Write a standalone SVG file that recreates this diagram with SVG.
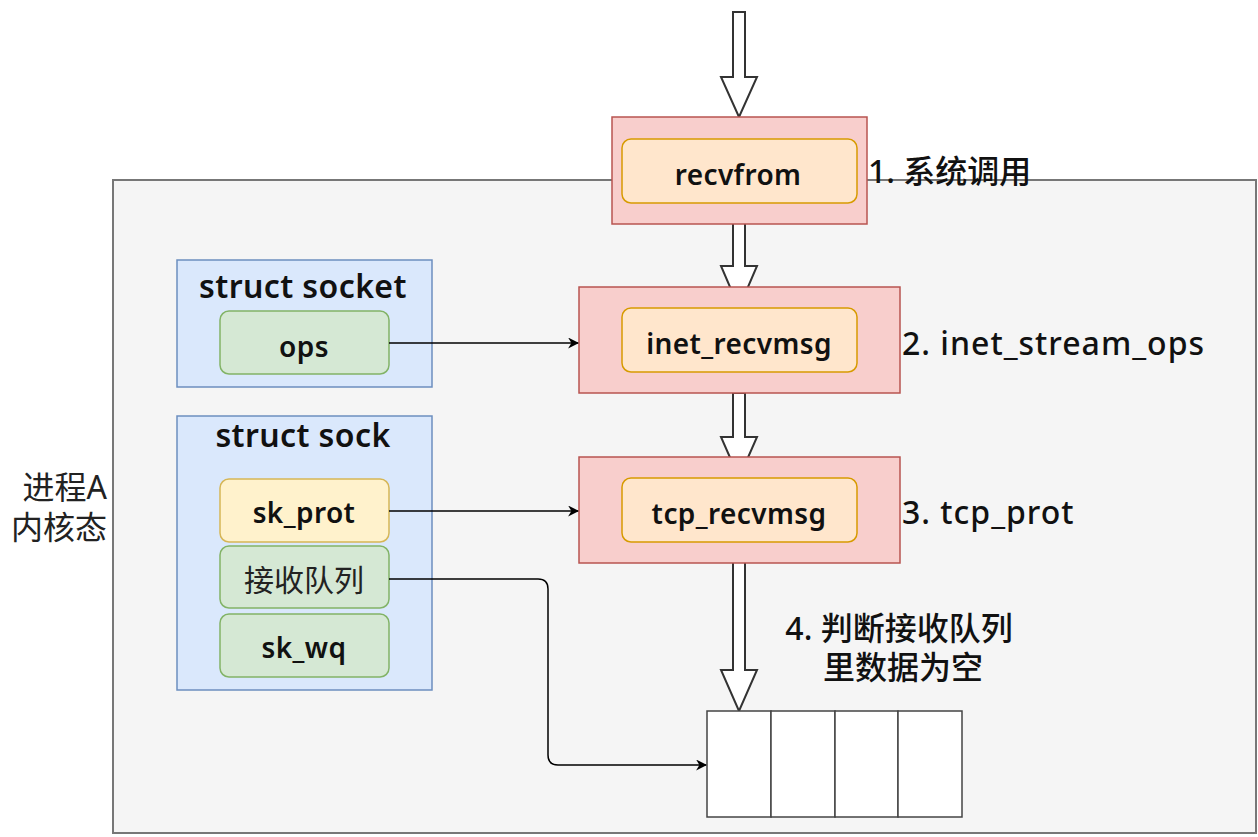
<svg xmlns="http://www.w3.org/2000/svg" width="1258" height="837" viewBox="0 0 1258 837">
  <defs>
    <marker id="arr" viewBox="0 0 10 10" refX="9" refY="5" markerWidth="11" markerHeight="11" markerUnits="userSpaceOnUse" orient="auto">
      <path d="M0,0 L10,5 L0,10 L3,5 Z" fill="#000"/>
    </marker>
    <style>
      .lbl { font-family: "Noto Sans", "Noto Sans CJK SC", sans-serif; font-size: 28px; font-weight: 600; fill: #111; letter-spacing: 0.4px; }
      .title { font-family: "Noto Sans", "Noto Sans CJK SC", sans-serif; font-size: 32px; font-weight: 600; fill: #111; letter-spacing: 0.4px; }
      .note { font-family: "Noto Sans", "Noto Sans CJK SC", sans-serif; font-size: 32px; font-weight: 500; fill: #111; }
      .wide { letter-spacing: 1px; }
      .cjk { font-family: "Noto Sans CJK SC", sans-serif; font-size: 30px; fill: #222; }
      .side { font-family: "Noto Sans", "Noto Sans CJK SC", sans-serif; font-size: 32px; fill: #222; }
      .call { fill: #f8cecc; stroke: #b85450; stroke-width: 1.5; }
      .fn { fill: #ffe6cc; stroke: #d79b00; stroke-width: 1.5; }
      .struct { fill: #dae8fc; stroke: #6c8ebf; stroke-width: 1.5; }
      .green { fill: #d5e8d4; stroke: #82b366; stroke-width: 1.5; }
      .yellow { fill: #fff2cc; stroke: #d6b656; stroke-width: 1.5; }
      .block { fill: #fff; stroke: #333; stroke-width: 2; stroke-linejoin: miter; }
      .link { fill: none; stroke: #000; stroke-width: 1.5; }
      .cell { fill: #fff; stroke: #444; stroke-width: 1.5; }
    </style>
  </defs>

  <rect width="1258" height="837" fill="#ffffff"/>

  <!-- kernel space of process A -->
  <g id="kernel">
    <rect x="113" y="180" width="1143" height="653" fill="#f5f5f5" stroke="#777" stroke-width="2"/>
    <text class="side" x="107" y="499" text-anchor="end">进程A</text>
    <text class="side" x="107" y="539" text-anchor="end">内核态</text>
  </g>

  <!-- hollow block arrows between call steps -->
  <g id="flow">
    <path class="block" d="M733,12 H745 V77 H757 L739,117 L721,77 H733 Z"/>
    <path class="block" d="M733,203 H745 V266 H757 L739,308 L721,266 H733 Z"/>
    <path class="block" d="M733,393 H745 V437 H757 L739,478 L721,437 H733 Z"/>
    <path class="block" d="M733,542 H745 V670 H757 L739,711 L721,670 H733 Z"/>
  </g>

  <g id="step-recvfrom">
    <rect class="call" x="612" y="117" width="255" height="107"/>
    <rect class="fn" x="622" y="139" width="235" height="64" rx="9"/>
    <text class="lbl" x="738" y="185" text-anchor="middle">recvfrom</text>
    <text class="note" x="868" y="183">1. 系统调用</text>
  </g>

  <g id="step-inet">
    <rect class="call" x="579" y="287" width="321" height="106"/>
    <rect class="fn" x="622" y="308" width="235" height="64" rx="9"/>
    <text class="lbl" x="739" y="354" text-anchor="middle">inet_recvmsg</text>
    <text class="note wide" x="902" y="355">2. inet_stream_ops</text>
  </g>

  <g id="step-tcp">
    <rect class="call" x="579" y="457" width="321" height="106"/>
    <rect class="fn" x="622" y="478" width="235" height="64" rx="9"/>
    <text class="lbl" x="739" y="524" text-anchor="middle">tcp_recvmsg</text>
    <text class="note wide" x="902" y="524">3. tcp_prot</text>
  </g>

  <g id="step-check">
    <text class="note" x="899" y="640" text-anchor="middle">4. 判断接收队列</text>
    <text class="note" x="903" y="679" text-anchor="middle">里数据为空</text>
  </g>

  <g id="queue">
    <rect class="cell" x="707" y="711" width="64" height="106"/>
    <rect class="cell" x="771" y="711" width="64" height="106"/>
    <rect class="cell" x="835" y="711" width="63" height="106"/>
    <rect class="cell" x="898" y="711" width="64" height="106"/>
  </g>

  <g id="struct-socket">
    <rect class="struct" x="177" y="260" width="255" height="127"/>
    <text class="title" x="303" y="298" text-anchor="middle">struct socket</text>
    <rect class="green" x="220" y="311" width="169" height="63" rx="9"/>
    <text class="lbl" x="304" y="357" text-anchor="middle">ops</text>
  </g>

  <g id="struct-sock">
    <rect class="struct" x="177" y="416" width="255" height="274"/>
    <text class="title" x="303" y="447" text-anchor="middle">struct sock</text>
    <rect class="yellow" x="220" y="479" width="169" height="63" rx="9"/>
    <text class="lbl" x="304" y="523" text-anchor="middle">sk_prot</text>
    <rect class="green" x="220" y="546" width="169" height="62" rx="9"/>
    <text class="cjk" x="304" y="591" text-anchor="middle">接收队列</text>
    <rect class="green" x="220" y="614" width="169" height="63" rx="9"/>
    <text class="lbl" x="304" y="658" text-anchor="middle">sk_wq</text>
  </g>

  <!-- pointer connectors -->
  <g id="links">
    <path class="link" d="M389,343 H578" marker-end="url(#arr)"/>
    <path class="link" d="M389,511 H578" marker-end="url(#arr)"/>
    <path class="link" d="M389,579 H538 Q548,579 548,589 V755 Q548,765 558,765 H706" marker-end="url(#arr)"/>
  </g>
</svg>
